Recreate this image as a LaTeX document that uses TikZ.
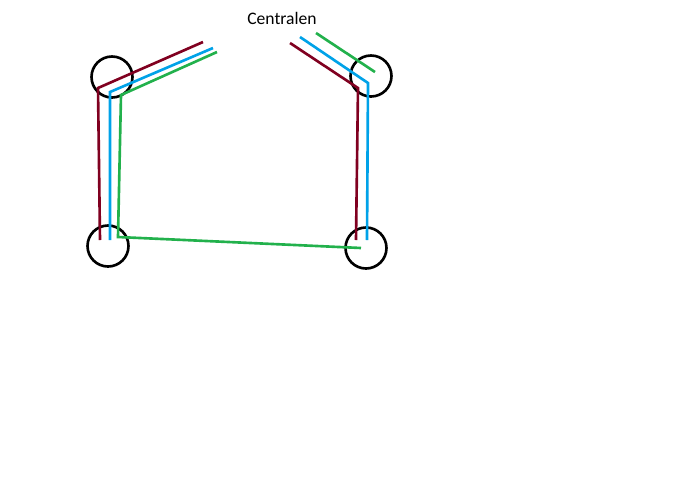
\documentclass[tikz,border=0pt]{standalone}
\usepackage{fontspec}
\setmainfont{Carlito}
\definecolor{wred}{RGB}{128,0,32}
\definecolor{wblue}{RGB}{0,162,232}
\definecolor{wgreen}{RGB}{34,177,76}
\tikzset{ring/.style={circle,draw,line width=1.5pt,inner sep=0pt,minimum size=0.82cm},
	wire/.style={line width=1.5pt}}
\begin{document}
\begin{tikzpicture}[x=0.02cm,y=-0.02cm]
\useasboundingbox (0,0) rectangle (700,481);
\node (title) at (282,18) {Centralen};
\node[ring] (tl) at (112,77) {};
\node[ring] (tr) at (371,76) {};
\node[ring] (bl) at (108,246) {};
\node[ring] (br) at (366,248) {};
% red pair
\coordinate (r1) at (203,42); \coordinate (r2) at (98,88); \coordinate (r3) at (100,240);
\coordinate (r4) at (290,43); \coordinate (r5) at (358,88); \coordinate (r6) at (356,240);
\draw[wire,wred] (r1) -- (r2) -- (r3);
\draw[wire,wred] (r4) -- (r5) -- (r6);
% blue pair
\coordinate (b1) at (213,48); \coordinate (b2) at (110,92); \coordinate (b3) at (110,240);
\coordinate (b4) at (300,37); \coordinate (b5) at (368,83); \coordinate (b6) at (367,240);
\draw[wire,wblue] (b1) -- (b2) -- (b3);
\draw[wire,wblue] (b4) -- (b5) -- (b6);
% green pair
\coordinate (g1) at (217,52); \coordinate (g2) at (121,95); \coordinate (g3) at (118,237);
\coordinate (g4) at (361,248); \coordinate (g5) at (316,33); \coordinate (g6) at (375,72);
\draw[wire,wgreen] (g1) -- (g2) -- (g3) -- (g4);
\draw[wire,wgreen] (g5) -- (g6);
\end{tikzpicture}
\end{document}
